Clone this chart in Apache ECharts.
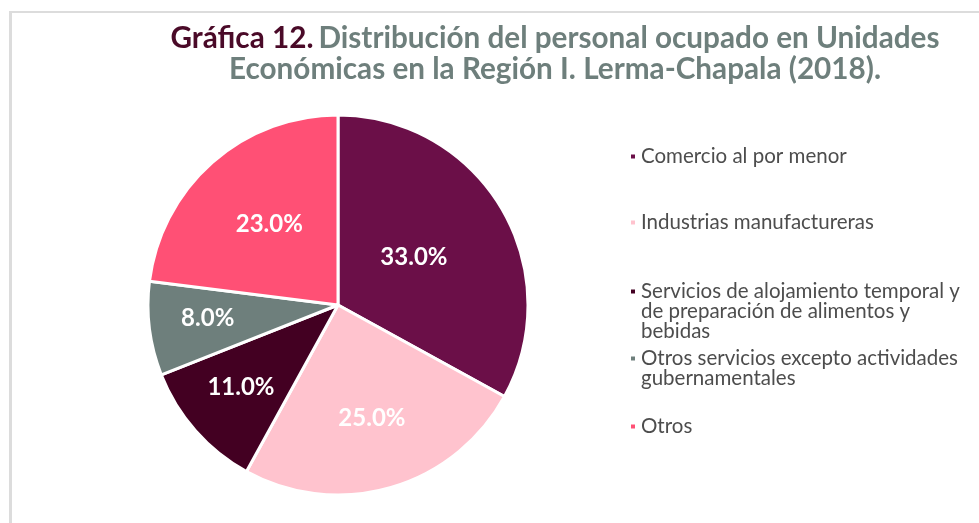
<!DOCTYPE html>
<html>
<head>
<meta charset="utf-8">
<script src="https://cdn.jsdelivr.net/npm/echarts@6/dist/echarts.min.js"></script>
<style>
  html, body { margin: 0; padding: 0; background: #fff; }
  #frame { position: absolute; left: 9px; top: 11px; width: 970px; height: 512px;
           border-top: 2px solid #dcdcdc; border-left: 3px solid #dcdcdc; }
  #chart-box { position: absolute; left: 0; top: 0; width: 979px; height: 523px; }
</style>
</head>
<body>
<div id="frame"></div>
<div id="chart-box"></div>
<script>
const categories = [
  'Comercio al por menor',
  'Industrias manufactureras',
  'Servicios de alojamiento temporal y\nde preparación de alimentos y\nbebidas',
  'Otros servicios excepto actividades\ngubernamentales',
  'Otros'
]
const shares = [33, 25, 11, 8, 23]
const colors = ['#6B0F48', '#FFC3CE', '#430022', '#6E7F7C', '#FF5075']

// legend rows: top offset of each block and how many text lines each entry has
const legendTops = [141, 207, 236, 323, 411]
const legendLines = [1, 1, 3, 2, 1]
// how far out from the centre each label sits (fraction of radius)
const labelReach = [0.45, 0.62, 0.66, 0.67, 0.53]

const cx = 338, cy = 305, radius = 190

const chart = echarts.init(document.getElementById('chart-box'), null, {renderer: 'canvas'})

const legends = categories.map(function (name, i) {
  return {
    orient: 'vertical',
    left: 624,
    top: legendTops[i],
    itemWidth: 6,
    itemHeight: 6,
    icon: 'rect',
    selectedMode: false,
    data: [name],
    // blank lines in front keep the marker level with the first text line
    formatter: function (n) { return '\n'.repeat(legendLines[i] - 1) + n },
    textStyle: {
      fontFamily: 'Lato',
      fontSize: 20.5,
      color: '#4d4d4d',
      lineHeight: 20
    }
  }
})

chart.setOption({
  color: colors,
  animation: false,
  title: {
    left: 550,
    top: 18,
    textAlign: 'center',
    text: '{a|Gráfica 12.} {b|Distribución del personal ocupado en Unidades}\n{b|Económicas en la Región I. Lerma-Chapala (2018).}',
    textStyle: {
      rich: {
        a: {fontFamily: 'Lato', fontWeight: 'bold', fontSize: 29.7, color: '#4A0A28', lineHeight: 31},
        b: {fontFamily: 'Lato', fontWeight: 'bold', fontSize: 29.7, color: '#6E7F7C', lineHeight: 31}
      }
    }
  },
  legend: legends,
  series: [{
    type: 'pie',
    center: [cx, cy],
    radius: radius,
    startAngle: 90,
    clockwise: true,
    itemStyle: {borderColor: '#fff', borderWidth: 3},
    label: {
      show: true,
      position: 'inside',
      color: '#fff',
      fontFamily: 'Lato',
      fontWeight: 'bold',
      fontSize: 24,
      formatter: function (p) { return p.value.toFixed(1) + '%' }
    },
    labelLayout: function (p) {
      const r = p.labelRect
      const lx = r.x + r.width / 2, ly = r.y + r.height / 2
      const k = labelReach[p.dataIndex] / 0.5
      return {dx: (lx - cx) * (k - 1), dy: (ly - cy) * (k - 1) - 3}
    },
    labelLine: {show: false},
    emphasis: {disabled: true},
    data: categories.map(function (name, i) {
      return {name: name, value: shares[i]}
    })
  }]
})
</script>
</body>
</html>
